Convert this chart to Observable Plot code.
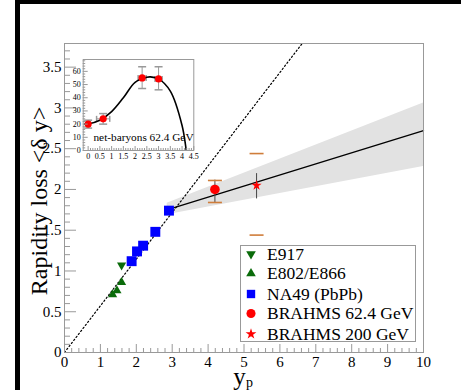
<!DOCTYPE html>
<html><head><meta charset="utf-8">
<script src="https://cdn.jsdelivr.net/npm/d3@7"></script>
<script src="https://cdn.jsdelivr.net/npm/@observablehq/plot@0.6"></script>
<style>
html,body{margin:0;padding:0;background:#fff;}
#wrap{position:relative;width:461px;height:390px;overflow:hidden;background:#fff;font-family:"Liberation Serif","Times New Roman",serif;}
#wrap svg{position:absolute;background:transparent;}
.bar{position:absolute;background:#000;}
</style></head><body><div id="wrap">
<div class="bar" style="left:15px;top:0;width:5px;height:390px"></div>
<div class="bar" style="left:15px;top:0;width:446px;height:4px"></div>
</div>
<script>
// ---------- main panel data ----------
const e917X = [1.59];
const e917Y = [1.07];
const e802X = [1.34, 1.46, 1.59];
const e802Y = [0.71, 0.76, 0.86];
const na49X = [1.87, 2.02, 2.19, 2.53, 2.91];
const na49Y = [1.12, 1.24, 1.31, 1.48, 1.74];
const brahmsX = [4.19, 5.35];
const brahmsY = [2.00, 2.05];
const brahmsStatLo = [1.84, 1.89];
const brahmsStatHi = [2.12, 2.20];
const brahmsSysLo = [1.84, 1.44];
const brahmsSysHi = [2.11, 2.44];
const fitX = [2.92, 10];
const fitY = [1.76, 2.72];
const bandX = [2.86, 10];
const bandLo = [1.69, 2.28];
const bandHi = [1.83, 3.06];
const diagX = [0, 6.62];
const diagY = [0, 3.79];
const xTicks = [0,1,2,3,4,5,6,7,8,9,10];
const yTicks = [0,0.5,1,1.5,2,2.5,3,3.5];

// ---------- inset data ----------
const insX = [0, 0.64, 2.3, 3.0];
const insY = [20, 24, 55, 54.3];
const insXerr = [0.08, 0.28, 0.17, 0.15];
const insYlo = [17, 20, 47, 46];
const insYhi = [23, 28, 63.5, 63.5];
const curveX = [-0.15, 0, 0.5, 1, 1.5, 2, 2.5, 2.65, 3, 3.5, 4, 4.18, 4.3];
const curveY = [20, 20.2, 23, 29.5, 40, 51.7, 55.5, 55.8, 54.3, 45, 19, 0, -15];
const insXTicks = [0,0.5,1,1.5,2,2.5,3,3.5,4,4.5];
const insYTicks = [0,10,20,30,40,50,60];

// ---------- legend ----------
const legLabels = ["E917", "E802/E866", "NA49 (PbPb)", "BRAHMS 62.4 GeV", "BRAHMS 200 GeV"];
const legColors = ["#0a6b0a", "#0a6b0a", "#0000ff", "#ff0000", "#ff0000"];

const green = "#0a6b0a", orange = "#cf7d3a", axisGray = "#999";
const hcap = w => ({draw(c){c.moveTo(-w/2,0); c.lineTo(w/2,0);}});
const vcap = h => ({draw(c){c.moveTo(0,-h/2); c.lineTo(0,h/2);}});
const fmt = d => String(d);
const zip = (xs, ys) => xs.map((x,i) => ({x, y: ys[i]}));

const minorX = d3.range(0, 10.001, 0.2).filter(v => Math.abs(v - Math.round(v)) > 1e-6);
const minorY = d3.range(0, 3.79, 0.1).filter(v => Math.abs(v*2 - Math.round(v*2)) > 1e-6);

const brahms = brahmsX.map((x,i) => ({x, y: brahmsY[i], lo: brahmsStatLo[i], hi: brahmsStatHi[i], slo: brahmsSysLo[i], shi: brahmsSysHi[i]}));
const band = bandX.map((x,i) => ({x, lo: bandLo[i], hi: bandHi[i]}));

const main = Plot.plot({
  width: 461, height: 390,
  marginLeft: 64, marginRight: 38, marginTop: 43, marginBottom: 38,
  x: {domain: [0, 10]},
  y: {domain: [0, 3.79]},
  style: {fontFamily: '"Liberation Serif", serif', background: "transparent", color: "#000"},
  marks: [
    Plot.areaY(band, {x: "x", y1: "lo", y2: "hi", fill: "#e2e2e2"}),
    Plot.line(zip(diagX, diagY), {x: "x", y: "y", stroke: "#000", strokeWidth: 1.2, strokeDasharray: "1.4,2.4", clip: true}),
    Plot.line(zip(fitX, fitY), {x: "x", y: "y", stroke: "#000", strokeWidth: 1.3}),
    Plot.link(brahms, {x1: "x", x2: "x", y1: "lo", y2: "hi", stroke: "#444", strokeWidth: 1}),
    Plot.dot(brahms, {x: "x", y: "slo", symbol: hcap(14), fill: "none", stroke: orange, strokeWidth: 1.6}),
    Plot.dot(brahms, {x: "x", y: "shi", symbol: hcap(14), fill: "none", stroke: orange, strokeWidth: 1.6}),
    Plot.dot(zip(e802X, e802Y), {x: "x", y: "y", symbol: "triangle", r: 3.4, fill: green}),
    Plot.dot(zip(e917X, e917Y), {x: "x", y: "y", symbol: "triangle", rotate: 180, r: 3.4, fill: green}),
    Plot.dot(zip(na49X, na49Y), {x: "x", y: "y", symbol: "square", r: 5.6, fill: "#0000ff"}),
    Plot.dot([brahms[0]], {x: "x", y: "y", symbol: "circle", r: 4.8, fill: "#ff0000"}),
    Plot.dot([brahms[1]], {x: "x", y: "y", symbol: "star", r: 3.2, fill: "#ff0000"}),
    Plot.frame({stroke: axisGray}),
    Plot.axisY({ticks: yTicks, tickSize: 0, tickPadding: 3, tickFormat: fmt, fontSize: 15, label: null}),
    Plot.axisY({ticks: yTicks, tickSize: -12, tickFormat: () => "", stroke: axisGray, label: null}),
    Plot.axisY({ticks: minorY, tickSize: -6, tickFormat: () => "", stroke: axisGray, label: null}),
    Plot.axisX({ticks: xTicks, tickSize: 0, tickPadding: 4, tickFormat: fmt, fontSize: 15, label: null}),
    Plot.axisX({ticks: xTicks, tickSize: -8, tickFormat: () => "", stroke: axisGray, label: null}),
    Plot.axisX({ticks: minorX, tickSize: -4, tickFormat: () => "", stroke: axisGray, label: null}),
    Plot.text(["Rapidity loss <δ y>"], {frameAnchor: "left", textAnchor: "middle", lineAnchor: "middle", rotate: -90, dx: -25.5, dy: 3, fontSize: 24}),
    Plot.text(["y"], {frameAnchor: "bottom", lineAnchor: "bottom", dx: -4.5, dy: 32, fontSize: 25}),
    Plot.text(["p"], {frameAnchor: "bottom", lineAnchor: "bottom", dx: 5.5, dy: 34.5, fontSize: 14})
  ]
});
main.style.left = "0px"; main.style.top = "0px";
document.getElementById("wrap").appendChild(main);

// ---------- inset ----------
const ins = insX.map((x,i) => ({x, y: insY[i], xl: x - insXerr[i], xh: x + insXerr[i], yl: insYlo[i], yh: insYhi[i]}));
const insMinorY = d3.range(0, 69, 2).filter(v => v % 10 !== 0);
const insMinorX = d3.range(0, 4.51, 0.1).filter(v => Math.abs(v*2 - Math.round(v*2)) > 1e-6);
const inset = Plot.plot({
  width: 141, height: 114,
  marginLeft: 22.7, marginRight: 7.7, marginTop: 9, marginBottom: 14,
  x: {domain: [-0.21, 4.5]},
  y: {domain: [0, 69]},
  style: {fontFamily: '"Liberation Serif", serif', background: "transparent", color: "#000"},
  marks: [
    Plot.frame({fill: "#fff", stroke: "none"}),
    Plot.link(ins, {x1: "xl", x2: "xh", y1: "y", y2: "y", stroke: "#999", strokeWidth: 1}),
    Plot.link(ins, {x1: "x", x2: "x", y1: "yl", y2: "yh", stroke: "#999", strokeWidth: 1}),
    Plot.dot(ins, {x: "x", y: "yl", symbol: hcap(8), fill: "none", stroke: "#999"}),
    Plot.dot(ins, {x: "x", y: "yh", symbol: hcap(8), fill: "none", stroke: "#999"}),
    Plot.dot(ins, {x: "xl", y: "y", symbol: vcap(6), fill: "none", stroke: "#999"}),
    Plot.dot(ins, {x: "xh", y: "y", symbol: vcap(6), fill: "none", stroke: "#999"}),
    Plot.line(zip(curveX, curveY), {x: "x", y: "y", curve: "catmull-rom", stroke: "#000", strokeWidth: 1.6, clip: true}),
    Plot.dot(ins, {x: "x", y: "y", r: 3.6, fill: "#ff0000"}),
    Plot.frame({stroke: axisGray}),
    Plot.axisY({ticks: insYTicks, tickSize: 0, tickPadding: 2.5, tickFormat: fmt, fontSize: 8, label: null}),
    Plot.axisY({ticks: insYTicks, tickSize: -5, tickFormat: () => "", stroke: axisGray, label: null}),
    Plot.axisY({ticks: insMinorY, tickSize: -2.5, tickFormat: () => "", stroke: axisGray, label: null}),
    Plot.axisX({ticks: insXTicks, tickSize: 0, tickPadding: 3, tickFormat: fmt, fontSize: 8, label: null}),
    Plot.axisX({ticks: insXTicks, tickSize: -4, tickFormat: () => "", stroke: axisGray, label: null}),
    Plot.axisX({ticks: insMinorX, tickSize: -2, tickFormat: () => "", stroke: axisGray, label: null}),
    Plot.text(["net-baryons 62.4 GeV"], {frameAnchor: "bottom", dx: 5, dy: -9.5, fontSize: 11.3})
  ]
});
inset.style.left = "60px"; inset.style.top = "50px";
document.getElementById("wrap").appendChild(inset);

// ---------- legend ----------
const legSyms = [
  d3.symbol(d3.symbolTriangle, 40),
  d3.symbol(d3.symbolTriangle, 40),
  d3.symbol(d3.symbolSquare, 70),
  d3.symbol(d3.symbolCircle, 65),
  d3.symbol(d3.symbolStar, 36)
];
const legRot = [180, 0, 0, 0, 0];
const legRowY = [9, 28.5, 49, 68.5, 89];
const leg = d3.select("#wrap").append("svg")
  .attr("width", 177).attr("height", 98)
  .style("left", "240px").style("top", "245px");
leg.append("rect").attr("x", 0.5).attr("y", 0.5).attr("width", 175).attr("height", 96)
  .attr("fill", "#fff").attr("stroke", "#999");
legLabels.forEach((lab, i) => {
  leg.append("path").attr("d", legSyms[i]())
    .attr("transform", `translate(11,${legRowY[i]}) rotate(${legRot[i]})`)
    .attr("fill", legColors[i]);
  leg.append("text").attr("x", 27).attr("y", legRowY[i]).attr("dy", "0.34em")
    .attr("font-family", '"Liberation Serif", serif').attr("font-size", 17.5)
    .attr("fill", "#000").text(lab);
});
</script></body></html>
